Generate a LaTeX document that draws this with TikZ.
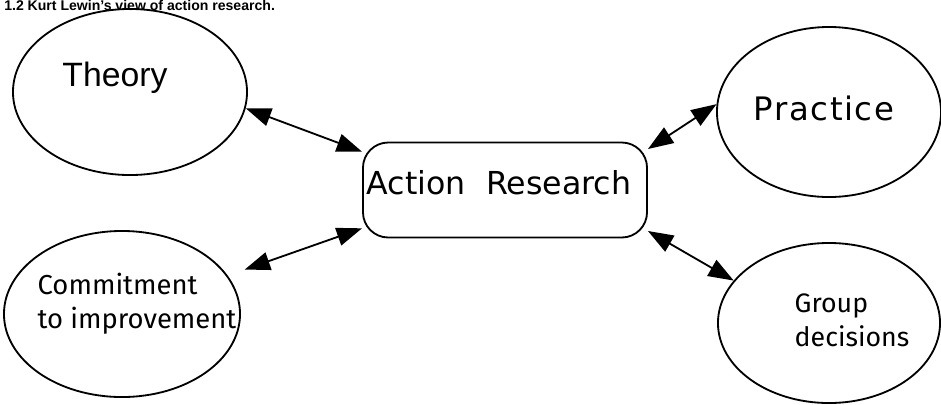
\documentclass[tikz,border=0pt]{standalone}
\usepackage{fontspec}
\setmainfont{Liberation Sans}
\newfontfamily\genevafont{DejaVu Sans}
\newfontfamily\spacedfont[LetterSpace=5]{DejaVu Sans}
\newfontfamily\myriadfont{Fira Sans}
\usetikzlibrary{arrows.meta,shapes.geometric}
\tikzset{
  bubble/.style = {ellipse, draw, line width=1.3pt, inner sep=0pt},
  hub/.style = {rectangle, draw, line width=1.3pt, rounded corners=18pt,
    minimum width=7.1cm, minimum height=2.375cm, inner sep=0pt},
  link/.style = {{Triangle[length=18pt,width=13pt]}-{Triangle[length=18pt,width=13pt]},
    line width=1.3pt}
}

\begin{document}
\begin{tikzpicture}[x=0.025cm, y=-0.025cm]
    \useasboundingbox[clip] (0,0) rectangle (941,404);
    % caption
    \node (caption) [anchor=base west, inner sep=0pt,
        font=\fontsize{10}{12}\selectfont\bfseries] at (4,10)
        {1.2 Kurt Lewin's view of action research.};
    \node (theory) [bubble, minimum width=5.85cm, minimum height=4.15cm,
        label={[xshift=-0.375cm, yshift=0.35cm, font=\fontsize{24}{28}\selectfont]center:Theory}]
        at (130,92) {};
    \node (practice) [bubble, minimum width=5.6cm, minimum height=4.25cm,
        label={[xshift=-0.125cm, yshift=0.1cm, font=\spacedfont\fontsize{23}{28}\selectfont]center:Practice}]
        at (829,112) {};
    \node (commit) [bubble, minimum width=5.9cm, minimum height=4.15cm,
        label={[xshift=0.375cm, yshift=0.25cm, align=left,
            font=\myriadfont\fontsize{19.5}{24}\selectfont]center:Commitment\\to improvement}]
        at (122,314) {};
    \node (group) [bubble, minimum width=5.55cm, minimum height=4cm,
        label={[xshift=0.575cm, yshift=0.075cm, align=left,
            font=\myriadfont\fontsize{19}{24}\selectfont]center:Group\\decisions}]
        at (829,323) {};
    \node (ar) [hub,
        label={[xshift=-0.15cm, yshift=0.175cm, font=\genevafont\fontsize{22.5}{28}\selectfont]center:Action~~Research}]
        at (505,190) {};

    \draw [link] (theory.-8) -- (ar.165);
    \draw [link] (practice.176) -- (ar.16);
    \draw [link, shorten <=0.45cm] (commit.20) -- (ar.195);
    \draw [link] (group.156) -- (ar.-16);
\end{tikzpicture}
\end{document}
